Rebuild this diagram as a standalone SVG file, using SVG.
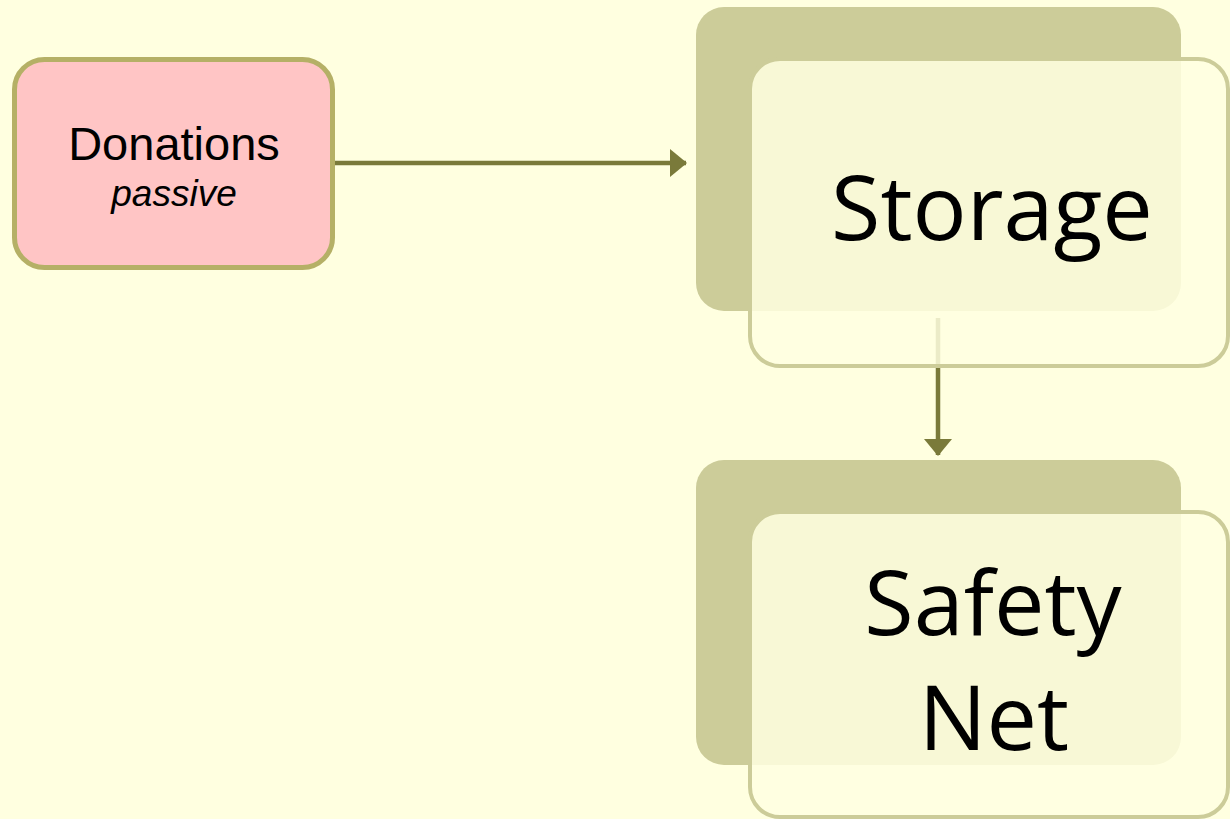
<svg xmlns="http://www.w3.org/2000/svg" width="1230" height="819" viewBox="0 0 1230 819">
<style>
.back{fill:#cccc99}
.front{fill:#ffffe0;fill-opacity:0.85;stroke:#cccc99;stroke-width:4}
.big{font-family:"Open Sans","Liberation Sans",sans-serif;font-size:90px;fill:#000;text-anchor:middle}
.conn{stroke:#7a7a3a;stroke-width:4.5;fill:none}
</style>
<defs>
<marker id="ah" markerUnits="userSpaceOnUse" markerWidth="20" markerHeight="30" refX="16" refY="14" orient="auto" overflow="visible">
<path d="M0,0 L17,14 L0,28 Z" fill="#7a7a3a"/>
</marker>
</defs>
<rect width="1230" height="819" fill="#ffffe0"/>
<g id="connectors">
<line class="conn" x1="335" y1="163" x2="686" y2="163" marker-end="url(#ah)"/>
<line class="conn" x1="938" y1="318" x2="938" y2="455" marker-end="url(#ah)"/>
</g>
<g id="donations">
<rect x="14.5" y="59.5" width="318" height="208" rx="30" fill="#ffc5c5" stroke="#b5b066" stroke-width="5"/>
<text x="174" y="160" font-family="'Liberation Sans',Arial,sans-serif" font-size="47" text-anchor="middle">Donations</text>
<text x="174" y="206" font-family="'Liberation Sans',Arial,sans-serif" font-size="37" font-style="italic" text-anchor="middle">passive</text>
</g>
<g id="storage">
<rect class="back" x="696" y="7" width="485" height="304" rx="28"/>
<rect class="front" x="750" y="59" width="478" height="307" rx="30"/>
<text class="big" x="992" y="240">Storage</text>
</g>
<g id="safety-net">
<rect class="back" x="696" y="460" width="485" height="305" rx="28"/>
<rect class="front" x="750" y="512" width="478" height="305" rx="30"/>
<text class="big" x="993" y="635">Safety</text>
<text class="big" x="994" y="750">Net</text>
</g>
</svg>
